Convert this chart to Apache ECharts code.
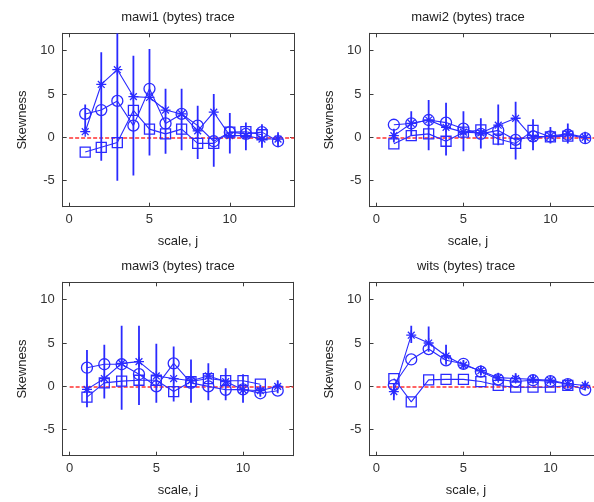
<!DOCTYPE html>
<html>
<head>
<meta charset="utf-8">
<script src="https://cdn.jsdelivr.net/npm/echarts@6/dist/echarts.min.js"></script>
<style>
html,body{margin:0;padding:0;background:#fff;overflow:hidden;}
#chart{width:600px;height:502px;}
</style>
</head>
<body>
<div id="chart"></div>
<script>
// ---------- data ----------
const panelTitles = ['mawi1 (bytes) trace', 'mawi2 (bytes) trace', 'mawi3 (bytes) trace', 'wits (bytes) trace'];
const xAxisName = 'scale, j';
const yAxisName = 'Skewness';
const xTickValues = [0, 5, 10];
const yTickValues = [-5, 0, 5, 10];

const mawi1Scales = [1,2,3,4,5,6,7,8,9,10,11,12,13];
const mawi1Star   = [0.65, 6.1, 7.8, 4.7, 4.6, 3.15, 2.7, 0.75, 2.9, 0.2, 0.2, -0.2, -0.2];
const mawi1Circle = [2.7, 3.15, 4.2, 1.35, 5.6, 1.6, 2.7, 1.35, -0.45, 0.6, 0.4, 0.6, -0.45];
const mawi1Square = [-1.7, -1.15, -0.6, 3.1, 0.95, 0.4, 0.95, -0.7, -0.7, 0.6, 0.65, 0.3];
const mawi1ErrLow  = [0.4, -2.7, -5.0, -4.4, -2.1, -1.9, -1.5, -2.5, -3.4, -1.85, -1.5, -1.2, -1.0];
const mawi1ErrHigh = [3.8, 9.8, 13.0, 9.4, 10.2, 5.6, 5.6, 3.65, 5.0, 2.8, 1.7, 1.5, 0.6];

const mawi2Scales = [1,2,3,4,5,6,7,8,9,10,11,12];
const mawi2Star   = [0.2, 1.6, 2.0, 1.15, 0.6, 0.5, 1.4, 2.2, -0.1, 0.15, 0.4, 0.0];
const mawi2Circle = [1.45, 1.6, 2.0, 1.7, 1.0, 0.4, 0.8, -0.3, 0.1, 0.1, 0.3, -0.1];
const mawi2Square = [-0.75, 0.2, 0.4, -0.45, 0.6, 0.85, -0.2, -0.7, 0.8, 0.05, 0.15];
const mawi2ErrLow  = [-0.6, 0.2, -1.5, -2.1, -1.6, -1.3, -0.9, -2.55, -1.5, -0.7, -0.7, -0.7];
const mawi2ErrHigh = [1.0, 3.0, 4.3, 4.0, 3.0, 2.2, 3.8, 4.1, 2.1, 1.2, 1.6, 0.65];

const mawi3Scales = [1,2,3,4,5,6,7,8,9,10,11,12];
const mawi3Star   = [-0.35, 0.9, 2.65, 2.85, 1.2, 0.9, 0.65, 1.2, 0.55, -0.4, -0.5, 0.0];
const mawi3Circle = [2.15, 2.55, 2.55, 1.4, 0.0, 2.65, 0.4, 0.0, -0.4, -0.35, -0.8, -0.5];
const mawi3Square = [-1.25, 0.4, 0.6, 0.7, 0.7, -0.6, 0.55, 0.9, 0.65, 0.65, 0.25];
const mawi3ErrLow  = [-2.4, -1.4, -2.7, -2.15, -1.9, -1.75, -1.9, -1.6, -1.6, -1.9, -1.2, -0.8];
const mawi3ErrHigh = [4.2, 4.8, 7.0, 7.0, 4.9, 4.6, 3.1, 2.65, 2.1, 1.4, 0.15, 0.7];

const witsScales = [1,2,3,4,5,6,7,8,9,10,11,12];
const witsStar   = [-0.6, 5.9, 5.0, 3.5, 2.45, 1.8, 1.0, 0.9, 0.8, 0.7, 0.3, 0.1];
const witsCircle = [0.15, 3.1, 4.3, 3.0, 2.6, 1.7, 0.8, 0.55, 0.7, 0.6, 0.25, -0.4];
const witsSquare = [0.9, -1.8, 0.75, 0.8, 0.8, 0.55, 0.1, -0.1, -0.1, -0.1, 0.1];
const witsErrLow  = [-1.6, 5.0, 4.0, 2.5, 2.0, 1.3, 0.6, 0.5, 0.4, 0.3, -0.2, -0.3];
const witsErrHigh = [0.35, 7.0, 6.9, 4.8, 3.0, 2.4, 1.5, 1.5, 1.3, 1.2, 0.8, 0.6];

// ---------- styling / layout ----------
const BLUE = '#2a2aff';
const RED = '#ff3c3c';
const FRAME = '#3c3c3c';
const FONT = '"Liberation Sans", Arial, sans-serif';
const Y_MIN = -8, Y_MAX = 12;

const panels = [
  {scales: mawi1Scales, star: mawi1Star, circle: mawi1Circle, square: mawi1Square, lo: mawi1ErrLow, hi: mawi1ErrHigh,
   grid: {left: 62.7, top: 33.3, width: 231.4, height: 173.4}, xMin: -0.4, xMax: 14, titleX: 178, titleY: 17},
  {scales: mawi2Scales, star: mawi2Star, circle: mawi2Circle, square: mawi2Square, lo: mawi2ErrLow, hi: mawi2ErrHigh,
   grid: {left: 369.5, top: 33.3, width: 230.5, height: 173.4}, xMin: -0.4, xMax: 12.85, titleX: 468, titleY: 17},
  {scales: mawi3Scales, star: mawi3Star, circle: mawi3Circle, square: mawi3Square, lo: mawi3ErrLow, hi: mawi3ErrHigh,
   grid: {left: 62.7, top: 282.3, width: 230.6, height: 173.4}, xMin: -0.4, xMax: 12.9, titleX: 178, titleY: 266},
  {scales: witsScales, star: witsStar, circle: witsCircle, square: witsSquare, lo: witsErrLow, hi: witsErrHigh,
   grid: {left: 369.5, top: 282.3, width: 230.5, height: 173.4}, xMin: -0.4, xMax: 12.85, titleX: 466, titleY: 266}
];

const STAR_PATH = 'path://M5,0L5,10M0,5L10,5M1.6,1.6L8.4,8.4M1.6,8.4L8.4,1.6';

const grids = [], xAxes = [], yAxes = [], series = [], graphics = [];

panels.forEach((p, g) => {
  grids.push(Object.assign({containLabel: false}, p.grid));
  const axisLine = {show: true, onZero: false, lineStyle: {color: FRAME, width: 1}};
  const tick = (vals) => ({show: true, inside: true, length: 4, customValues: vals, lineStyle: {color: FRAME}});
  const lbl = (vals, margin) => ({show: true, customValues: vals, color: '#333', fontFamily: FONT, fontSize: 13, margin: margin});
  xAxes.push({gridIndex: g, type: 'value', position: 'bottom', min: p.xMin, max: p.xMax,
    axisLine, axisTick: tick(xTickValues), axisLabel: lbl(xTickValues, 6), splitLine: {show: false}});
  xAxes.push({gridIndex: g, type: 'value', position: 'top', min: p.xMin, max: p.xMax,
    axisLine, axisTick: tick(xTickValues), axisLabel: {show: false}, splitLine: {show: false}});
  yAxes.push({gridIndex: g, type: 'value', position: 'left', min: Y_MIN, max: Y_MAX,
    axisLine, axisTick: tick(yTickValues), axisLabel: lbl(yTickValues, 8), splitLine: {show: false}});
  yAxes.push({gridIndex: g, type: 'value', position: 'right', min: Y_MIN, max: Y_MAX,
    axisLine, axisTick: tick(yTickValues), axisLabel: {show: false}, splitLine: {show: false}});

  const xi = 2 * g, yi = 2 * g;

  // error bars
  series.push({
    type: 'custom', xAxisIndex: xi, yAxisIndex: yi, clip: true, z: 2,
    data: p.scales.map((x, i) => [x, p.lo[i], p.hi[i]]),
    encode: {x: 0, y: [1, 2]},
    renderItem: (params, api) => {
      const a = api.coord([api.value(0), api.value(1)]);
      const b = api.coord([api.value(0), api.value(2)]);
      const cs = params.coordSys;
      const clampY = (v) => Math.max(cs.y, Math.min(cs.y + cs.height, v));
      return {type: 'line', shape: {x1: a[0], y1: clampY(a[1]), x2: b[0], y2: clampY(b[1])},
        style: {stroke: BLUE, lineWidth: 1.8}};
    }
  });

  const lineSeries = (vals, symbol, size, extra) => Object.assign({
    type: 'line', xAxisIndex: xi, yAxisIndex: yi, z: 3,
    data: vals.map((v, i) => [p.scales[i], v]),
    symbol: symbol, symbolSize: size, showSymbol: true,
    lineStyle: {color: BLUE, width: 1.1},
    itemStyle: {color: 'rgba(0,0,0,0)', borderColor: BLUE, borderWidth: 1.3},
    emphasis: {disabled: true}, silent: true
  }, extra || {});

  series.push(lineSeries(p.star, STAR_PATH, 10));
  series.push(lineSeries(p.circle, 'circle', 11, {
    markLine: {silent: true, symbol: 'none', label: {show: false}, z: 1,
      lineStyle: {color: RED, type: [4, 2], width: 2, opacity: 0.8},
      data: [[{coord: [0, 0]}, {coord: [p.xMax, 0]}]]}
  }));
  series.push(lineSeries(p.square, 'rect', 10));

  // texts
  graphics.push({type: 'text', x: p.titleX, y: p.titleY,
    style: {text: panelTitles[g], font: '13px ' + FONT, fill: '#222', textAlign: 'center', textVerticalAlign: 'middle'}});
  graphics.push({type: 'text', x: p.titleX, y: p.titleY + 224,
    style: {text: xAxisName, font: '13px ' + FONT, fill: '#222', textAlign: 'center', textVerticalAlign: 'middle'}});
  graphics.push({type: 'text', x: p.grid.left - 40, y: p.grid.top + p.grid.height / 2, rotation: Math.PI / 2,
    style: {text: yAxisName, font: '13px ' + FONT, fill: '#222', textAlign: 'center', textVerticalAlign: 'middle'}});
});

const chart = echarts.init(document.getElementById('chart'), null, {renderer: 'canvas'});
chart.setOption({
  animation: false,
  backgroundColor: '#fff',
  grid: grids,
  xAxis: xAxes,
  yAxis: yAxes,
  series: series,
  graphic: graphics
});
</script>
</body>
</html>
